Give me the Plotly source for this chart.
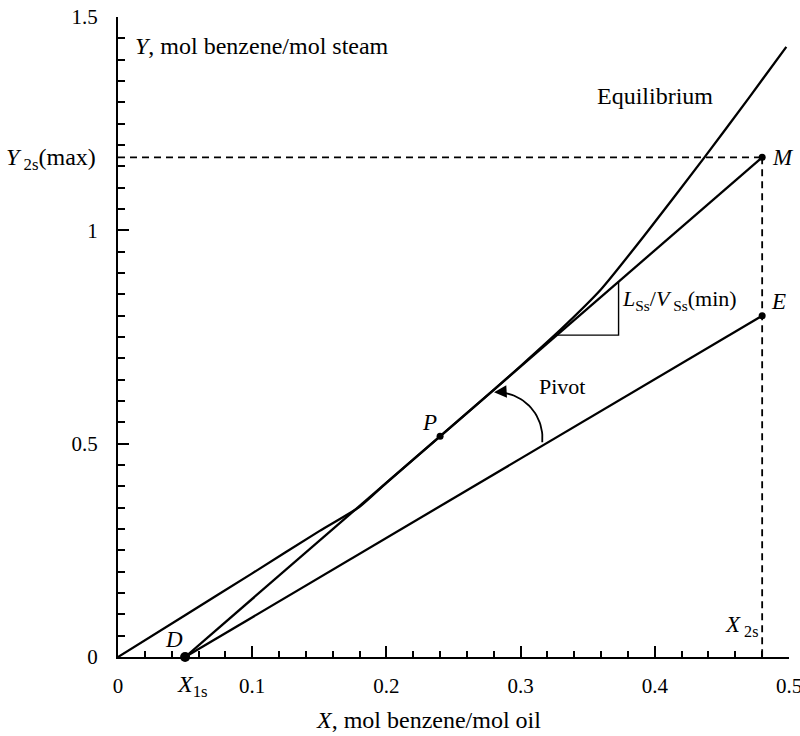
import math
import plotly.graph_objects as go

# Equilibrium curve Y vs X (mol benzene/mol steam vs mol benzene/mol oil)
x_eq = [0.0, 0.05, 0.10, 0.15, 0.18, 0.20, 0.24, 0.28, 0.30, 0.33, 0.36, 0.394, 0.437, 0.47, 0.498]
y_eq = [0.0, 0.098, 0.196, 0.295, 0.352, 0.408, 0.517, 0.626, 0.682, 0.768, 0.862, 0.995, 1.171, 1.31, 1.43]

# Key compositions
x1s = 0.05        # entering oil (stripped)  -> point D
x2s = 0.48        # leaving oil (feed)        -> points M, E
y2s_max = 1.171   # exit steam at minimum steam rate -> M
y_e = 0.80        # exit steam for the actual operating line -> E
x_p = 0.24        # pinch point P on the minimum-steam line

x_ticks = [0, 0.1, 0.2, 0.3, 0.4, 0.5]
y_ticks = [0, 0.5, 1, 1.5]

FONT = "Liberation Serif, Times New Roman, Times, serif"
W, H = 800, 736
ML, MR, MT, MB = 118, 11, 17, 79
X_RANGE = [0, 0.5]
Y_RANGE = [0, 1.5]
kx = (W - ML - MR) / (X_RANGE[1] - X_RANGE[0])   # px per x unit
ky = (H - MT - MB) / (Y_RANGE[1] - Y_RANGE[0])   # px per y unit

slope_min = y2s_max / (x2s - x1s)


def line_min(x):
    return slope_min * (x - x1s)


y_p = line_min(x_p)

fig = go.Figure()
solid = dict(color="black", width=2.3)

# Equilibrium curve
fig.add_trace(go.Scatter(x=x_eq, y=y_eq, mode="lines",
                         line=dict(color="black", width=2.3, shape="spline", smoothing=0.6),
                         cliponaxis=False))
# Minimum-steam operating line D-M
fig.add_trace(go.Scatter(x=[x1s, x2s], y=[0, y2s_max], mode="lines", line=solid, cliponaxis=False))
# Operating line D-E
fig.add_trace(go.Scatter(x=[x1s, x2s], y=[0, y_e], mode="lines", line=solid, cliponaxis=False))

# Dashed guides to M
dash = dict(color="black", width=1.8, dash="7px,5px")
fig.add_trace(go.Scatter(x=[0, x2s], y=[y2s_max, y2s_max], mode="lines", line=dash, cliponaxis=False))
fig.add_trace(go.Scatter(x=[x2s, x2s], y=[y2s_max, 0], mode="lines", line=dash, cliponaxis=False))

# Slope triangle on the minimum-steam line
xa, xb = 0.327, 0.373
fig.add_trace(go.Scatter(x=[xa, xb, xb], y=[line_min(xa), line_min(xa), line_min(xb)],
                         mode="lines", line=dict(color="black", width=1.4), cliponaxis=False))

# Points D, P, M, E
fig.add_trace(go.Scatter(x=[x1s], y=[0], mode="markers", marker=dict(color="black", size=10),
                         cliponaxis=False))
fig.add_trace(go.Scatter(x=[x_p, x2s, x2s], y=[y_p, y2s_max, y_e], mode="markers",
                         marker=dict(color="black", size=7), cliponaxis=False))

# "Pivot" arrow: a small circular arc swinging from line D-E towards line D-M
pc_x, pc_y = 0.282, 0.513     # arc centre (data units)
r_px = 46                     # arc radius in screen pixels
a0, a1 = math.radians(-5), math.radians(86)
n = 30
arc_t = [a0 + (a1 - a0) * i / (n - 1) for i in range(n)]
arc_x = [pc_x + r_px * math.cos(t) / kx for t in arc_t]
arc_y = [pc_y + r_px * math.sin(t) / ky for t in arc_t]
fig.add_trace(go.Scatter(x=arc_x, y=arc_y, mode="lines", line=dict(color="black", width=1.8),
                         cliponaxis=False))

a_tip = math.radians(93)
tip_x = pc_x + r_px * math.cos(a_tip) / kx
tip_y = pc_y + r_px * math.sin(a_tip) / ky
# arrow tail placed back along the arc tangent (screen y points down)
annotations = [
    dict(x=tip_x, y=tip_y, ax=11 * math.sin(a_tip), ay=11 * math.cos(a_tip),
         axref="pixel", ayref="pixel", showarrow=True, arrowhead=2, arrowsize=1.4,
         arrowwidth=1.8, arrowcolor="black", text=""),
]


def label(text, x, y, size=23, xanchor="center", yanchor="middle", xshift=0, yshift=0,
          xref="x", yref="y"):
    annotations.append(dict(text=text, x=x, y=y, xref=xref, yref=yref, showarrow=False,
                            xanchor=xanchor, yanchor=yanchor, xshift=xshift, yshift=yshift,
                            font=dict(family=FONT, size=size, color="black")))


label("<i>Y</i>, mol benzene/mol steam", 0.011, 1.433, size=24, xanchor="left")
label("<i>X</i>, mol benzene/mol oil", 0.2316, 0, size=24, yref="paper", yshift=-63)
label("<i>Y</i><sub> 2s</sub>(max)", 0, y2s_max, size=24, xanchor="right", xshift=-20, yshift=-2)
label("<i>X</i><sub>1s</sub>", x1s, 0, size=24, xshift=7, yshift=-29)
label("<i>X</i><sub> 2s</sub>", x2s, 0, size=23, xanchor="right", xshift=-2, yshift=31)
label("<i>D</i>", x1s, 0, xshift=-11, yshift=18)
label("<i>P</i>", x_p, y_p, xshift=-11, yshift=14)
label("<i>M</i>", x2s, y2s_max, xanchor="left", xshift=8, yshift=0)
label("<i>E</i>", x2s, y_e, xanchor="left", xshift=7, yshift=14)
label("Equilibrium", 0.400, 1.314, size=24)
label("Pivot", 0.331, 0.634, size=22)
label("<i>L</i><sub>Ss</sub>/<i>V</i><sub> Ss</sub>(min)", 0.374, 0.836, xanchor="left", size=22)

axis_common = dict(
    showline=True, linecolor="black", linewidth=2, showgrid=False, zeroline=False,
    ticks="inside", tickcolor="black", tickwidth=2, ticklen=11,
    tickfont=dict(family=FONT, size=21, color="black"),
    ticklabeloverflow="allow", automargin=False,
)

fig.update_layout(
    width=W, height=H,
    margin=dict(l=ML, r=MR, t=MT, b=MB, autoexpand=False),
    paper_bgcolor="white", plot_bgcolor="white",
    showlegend=False,
    annotations=annotations,
    xaxis=dict(range=X_RANGE, tickvals=x_ticks, ticklabelstandoff=9,
               minor=dict(dtick=0.02, ticks="inside", ticklen=6, tickwidth=1.6, tickcolor="black"),
               **axis_common),
    yaxis=dict(range=Y_RANGE, tickvals=y_ticks, ticklabelstandoff=14,
               minor=dict(dtick=0.05, ticks="inside", ticklen=7, tickwidth=1.6, tickcolor="black"),
               **axis_common),
)

fig.write_html("out.html")
